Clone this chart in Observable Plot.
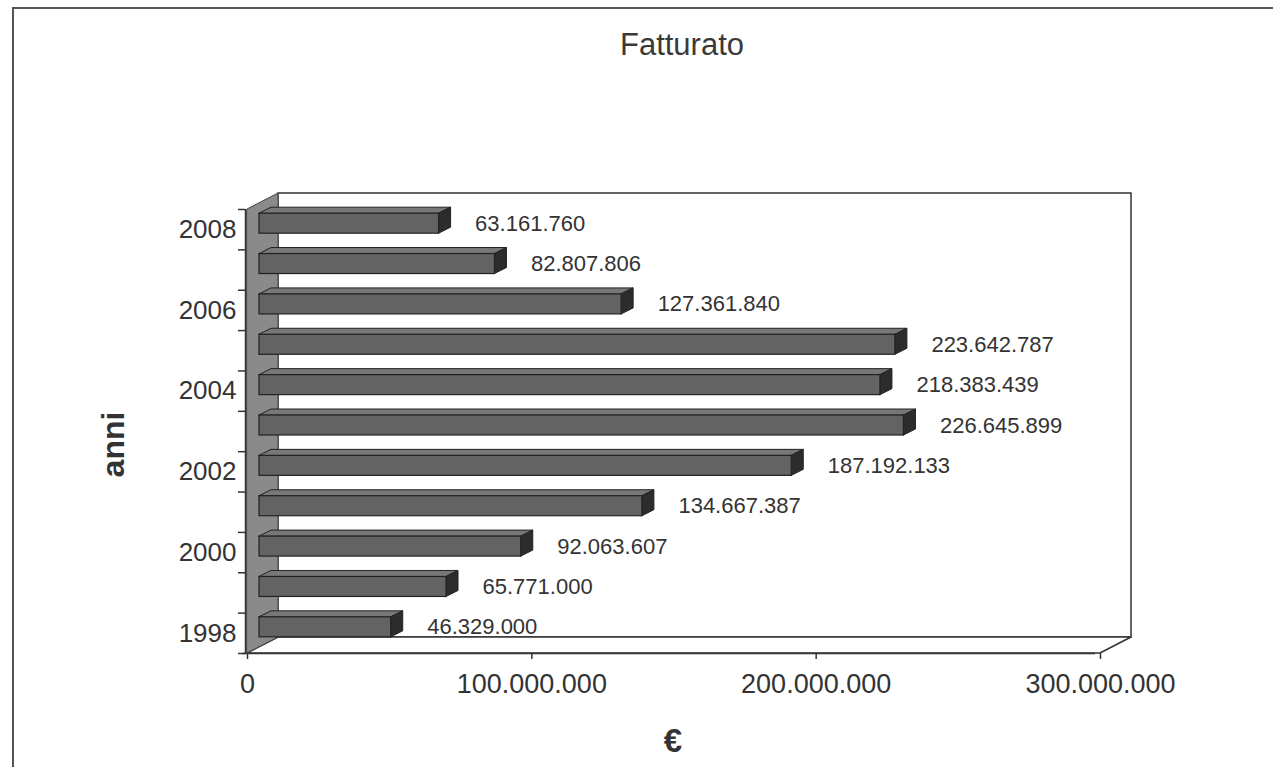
<!DOCTYPE html>
<html><head><meta charset="utf-8">
<script src="https://cdn.jsdelivr.net/npm/d3@7"></script>
<script src="https://cdn.jsdelivr.net/npm/@observablehq/plot@0.6"></script>
<style>
body{margin:0;background:#fff;font-family:"Liberation Sans",Arial,sans-serif;}
#wrap{position:relative;width:1273px;height:767px;overflow:hidden;}
#frame{position:absolute;left:12px;top:7px;width:1300px;height:800px;border-left:2px solid #555;border-top:2px solid #555;}
#title{position:absolute;left:0;width:1364px;top:27px;line-height:36px;text-align:center;font-size:31px;color:#3a3a3a;}
#chart svg{position:absolute;left:0;top:0;}
</style></head>
<body>
<div id="wrap"><div id="frame"></div><div id="title">Fatturato</div><div id="chart"></div></div>
<script>
// ---- data ----
const years = [1998, 1999, 2000, 2001, 2002, 2003, 2004, 2005, 2006, 2007, 2008];
const values = [46329000, 65771000, 92063607, 134667387, 187192133, 226645899, 218383439, 223642787, 127361840, 82807806, 63161760];
const yTickYears = [1998, 2000, 2002, 2004, 2006, 2008];
const xTicks = [0, 100000000, 200000000, 300000000];
const xDomain = [0, 300000000];
const yDomain = [1997.5, 2008.5];

// ---- layout ----
const W = 1273, H = 767, mL = 247, mR = 173, mT = 209, mB = 114;
const kx = (W - mL - mR) / (xDomain[1] - xDomain[0]);
const ky = (H - mT - mB) / (yDomain[1] - yDomain[0]);
const X = px => px / kx, Y = px => px / ky;
const half = Y(10);
const fmt = d3.formatLocale({decimal: ",", thousands: ".", grouping: [3], currency: ["", "€"]}).format(",d");

const rows = years.map((y, i) => ({year: y, value: values[i]}));
const boundaries = d3.range(yDomain[0], yDomain[1] + 0.01, 1);
const topFace = rows.flatMap(d => [
  {z: d.year, y: d.year + half, x1: 0, x2: d.value},
  {z: d.year, y: d.year + half + Y(6), x1: X(12), x2: d.value + X(12)}
]);
const sideFace = rows.flatMap(d => [
  {z: d.year, x: d.value, y1: d.year - half, y2: d.year + half},
  {z: d.year, x: d.value + X(12), y1: d.year - half + Y(6), y2: d.year + half + Y(6)}
]);
const leftWall = [
  {x: xDomain[0], y1: yDomain[0], y2: yDomain[1]},
  {x: xDomain[0] + X(31), y1: yDomain[0] + Y(16), y2: yDomain[1] + Y(16)}
];
const floor = [
  {y: yDomain[0], x1: xDomain[0], x2: xDomain[1]},
  {y: yDomain[0] + Y(16), x1: xDomain[0] + X(31), x2: xDomain[1] + X(31)}
];
const ink = "#333";

const chart = Plot.plot({
  width: W, height: H,
  marginLeft: mL, marginRight: mR, marginTop: mT, marginBottom: mB,
  style: {fontFamily: "Liberation Sans, Arial, sans-serif", background: "transparent", color: ink, overflow: "visible"},
  x: {domain: xDomain, axis: null},
  y: {type: "linear", domain: yDomain, axis: null},
  marks: [
    // back wall
    Plot.rect([xDomain], {x1: d => d[0], x2: d => d[1], y1: yDomain[0], y2: yDomain[1], dx: 31, dy: -16, fill: "white", stroke: ink, strokeWidth: 1.5}),
    // floor
    Plot.areaX(floor, {y: "y", x1: "x1", x2: "x2", fill: "white", stroke: ink, strokeWidth: 1.5}),
    // left wall
    Plot.areaY(leftWall, {x: "x", y1: "y1", y2: "y2", fill: "#8a8a8a", stroke: "#444", strokeWidth: 1}),
    // bars (3D)
    Plot.areaX(topFace, {y: "y", x1: "x1", x2: "x2", z: "z", dx: 12, dy: -6, fill: "#777", stroke: "#222", strokeWidth: 1}),
    Plot.areaY(sideFace, {x: "x", y1: "y1", y2: "y2", z: "z", dx: 12, dy: -6, fill: "#2c2c2c", stroke: "#222", strokeWidth: 1}),
    Plot.rect(rows, {x1: 0, x2: "value", y1: d => d.year - half, y2: d => d.year + half, dx: 12, dy: -6, fill: "#636363", stroke: "#222", strokeWidth: 1.2}),
    // axis lines
    Plot.ruleX([xDomain[0]], {y1: yDomain[0], y2: yDomain[1], dx: -2, stroke: ink, strokeWidth: 1.5}),
    Plot.ruleY([yDomain[0]], {dx: -5, stroke: ink, strokeWidth: 1.5}),
    // axes
    Plot.axisX(xTicks, {tickSize: 6, tickPadding: 14, fontSize: 27, tickFormat: fmt, color: ink, strokeWidth: 1.5}),
    Plot.axisY(yTickYears, {tickSize: 0, tickPadding: 11, fontSize: 26, tickFormat: d => String(d), color: ink}),
    Plot.axisY(boundaries, {tickSize: 7, tickPadding: 0, tickFormat: () => "", dx: -2, color: ink, strokeWidth: 1.5}),
    // value labels
    Plot.text(rows, {x: "value", y: "year", text: d => fmt(d.value), dx: 48, dy: -6, textAnchor: "start", fontSize: 22, fill: ink}),
    // axis titles
    Plot.text(["anni"], {text: d => d, frameAnchor: "left", textAnchor: "middle", lineAnchor: "middle", dx: -134, dy: 13, rotate: -90, fontSize: 32, fontWeight: "bold", fill: ink}),
    Plot.text(["€"], {text: d => d, frameAnchor: "bottom", textAnchor: "middle", dx: -1, dy: 98, fontSize: 33, fontWeight: "bold", fill: ink})
  ]
});
document.getElementById("chart").appendChild(chart);
</script>
</body></html>
